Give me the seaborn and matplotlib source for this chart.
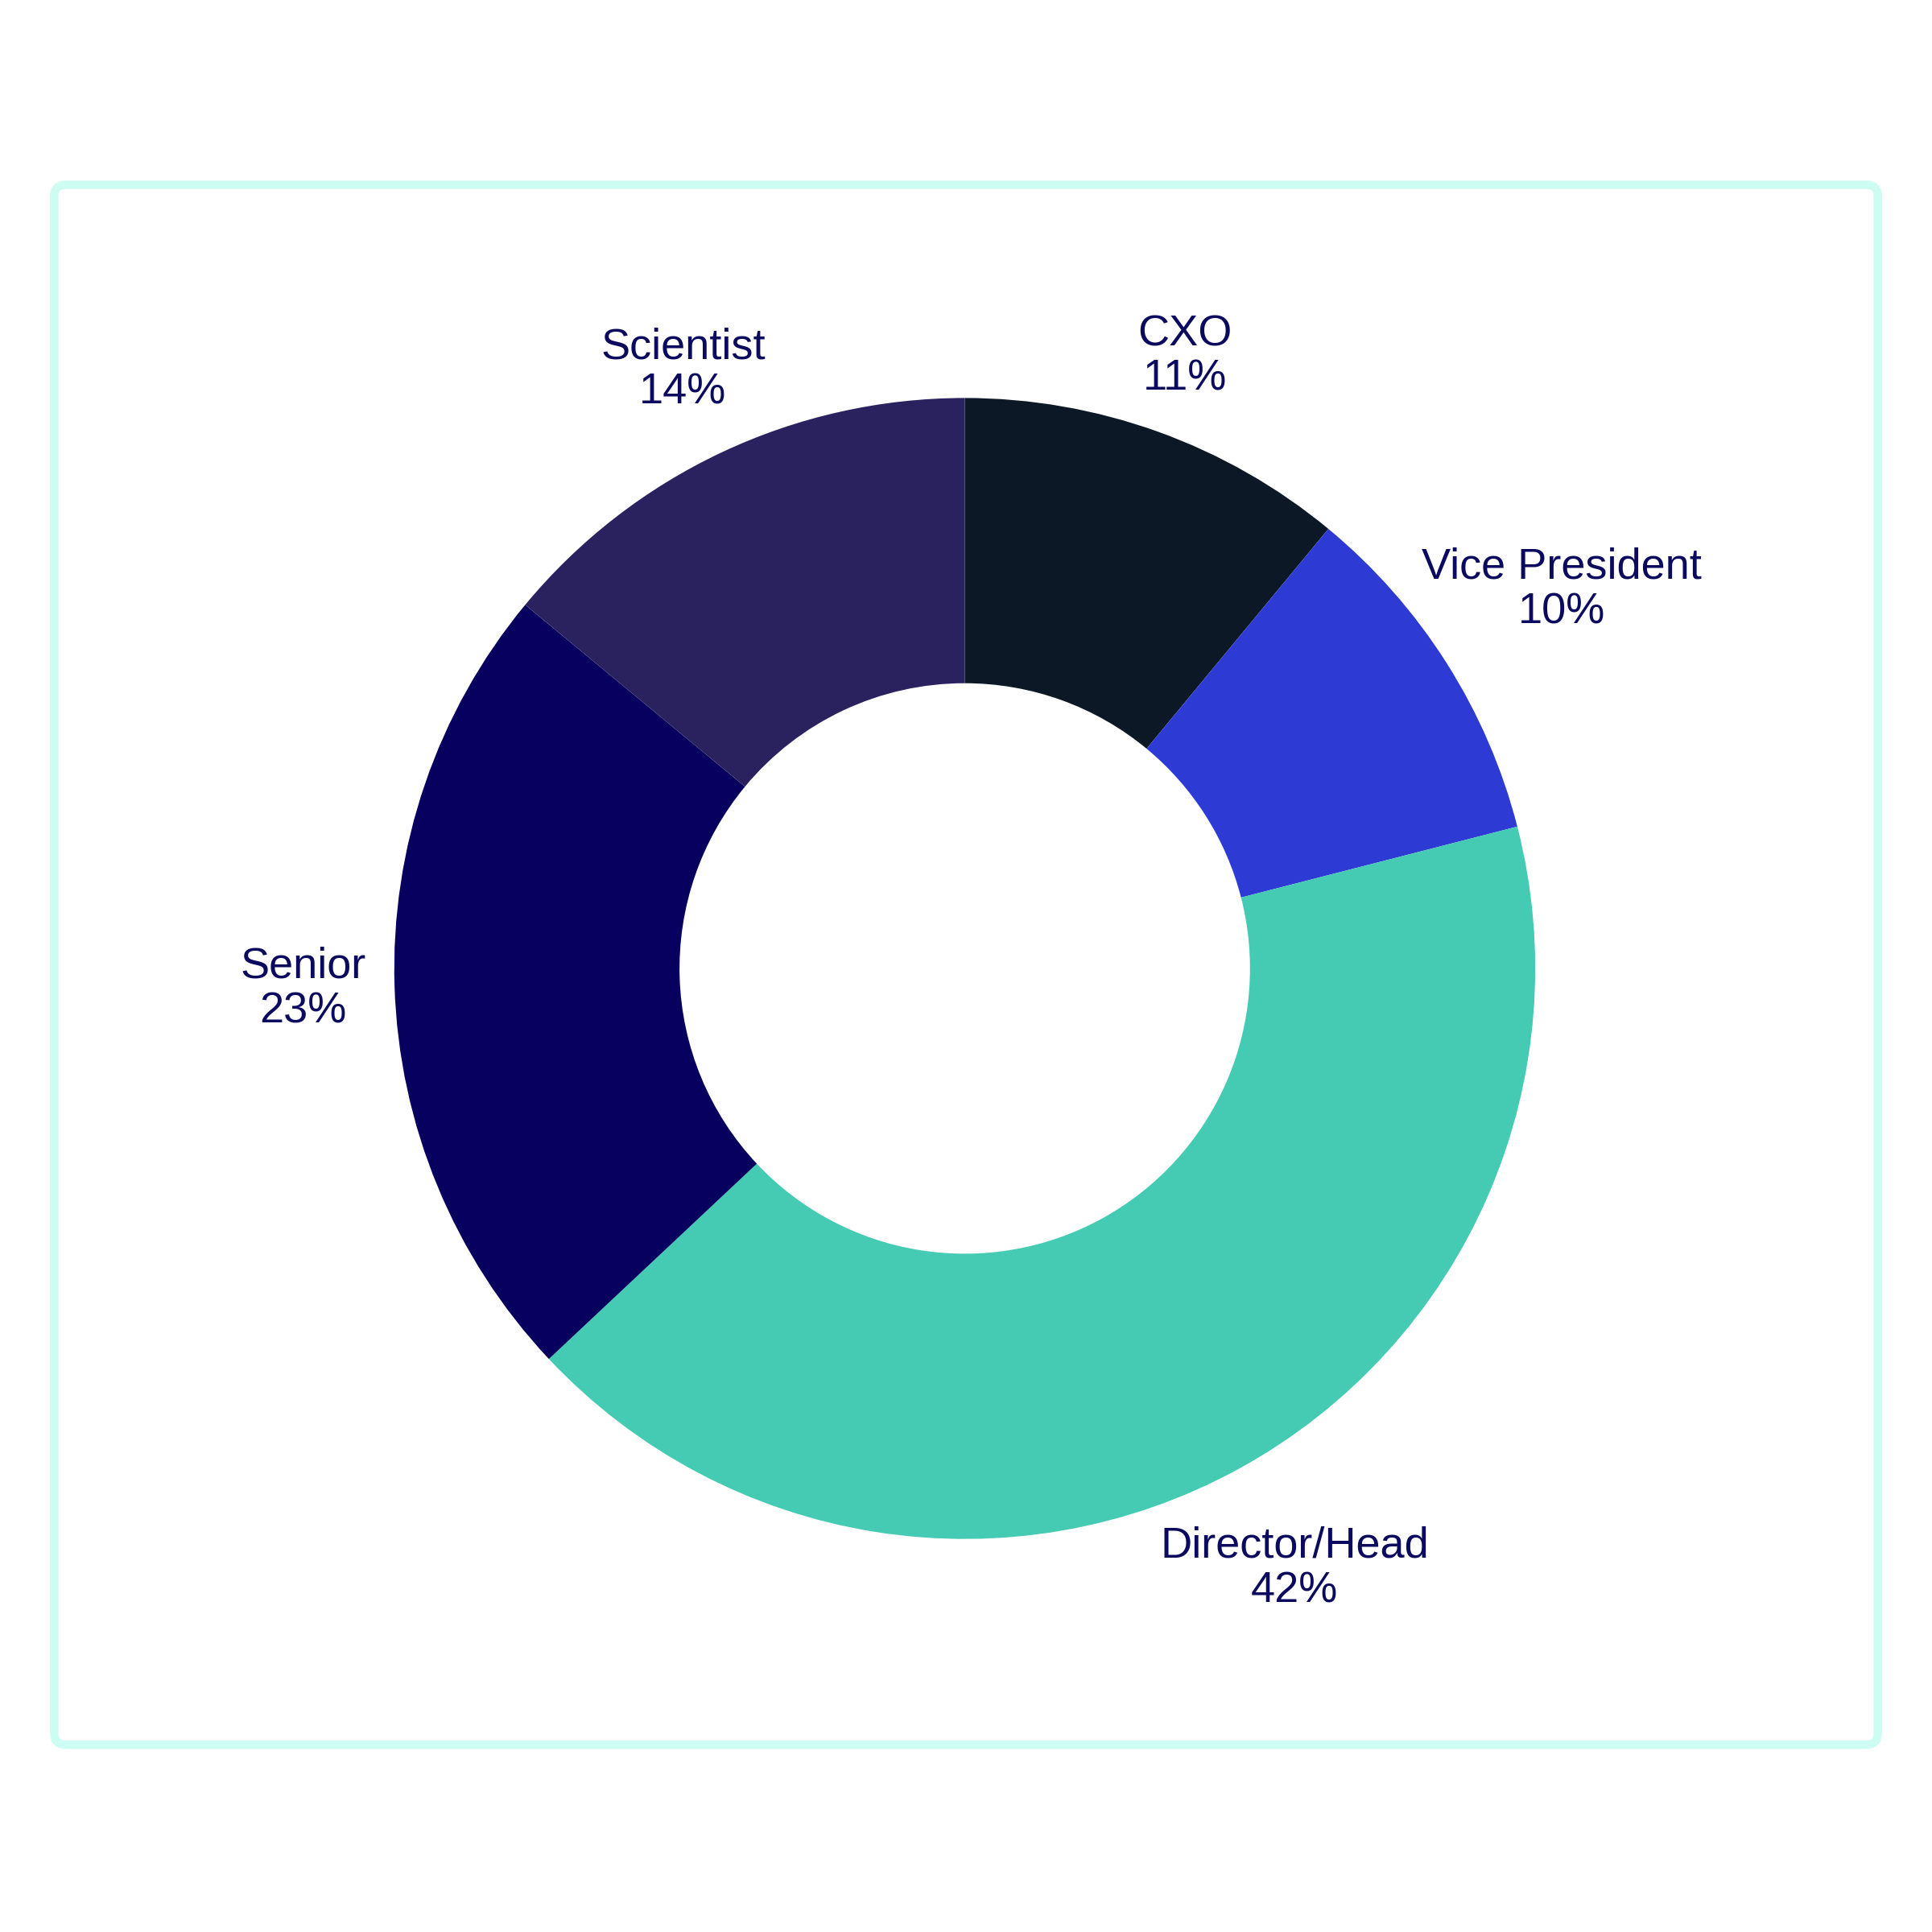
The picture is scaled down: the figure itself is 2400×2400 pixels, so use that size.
import numpy as np
import matplotlib
matplotlib.use('Agg')
import matplotlib.pyplot as plt
from matplotlib.patches import FancyBboxPatch
import seaborn as sns

# 数据
labels = ['CXO', 'Vice President', 'Director/Head', 'Senior', 'Scientist']
shares = [11, 10, 42, 23, 14]
colors = ['#0d1826', '#2d3ad4', '#45cbb3', '#08005e', '#29225e']
text_color = '#0b0a5e'

sns.set_theme(style='white')
plt.rcParams['font.family'] = ['Liberation Sans', 'DejaVu Sans']

fig = plt.figure(figsize=(8, 8), dpi=300)
fig.patch.set_facecolor('white')

# 外框
frame = FancyBboxPatch((44 / 1568, 1 - 1416 / 1568), 1480 / 1568, 1266 / 1568,
                       boxstyle='round,pad=0,rounding_size=0.006',
                       transform=fig.transFigure, fill=False,
                       edgecolor='#ccfcf2', linewidth=2.5)
fig.patches.append(frame)

ax = fig.add_axes([0, 0, 1, 1])
ax.pie(shares, colors=colors, startangle=90, counterclock=False, radius=1,
       wedgeprops=dict(width=0.5, linewidth=0))

# pie 会重设坐标范围，之后再设
R = 463 / 1568
cx, cy = 783 / 1568, 1 - 786 / 1568
ax.set_xlim(-cx / R, (1 - cx) / R)
ax.set_ylim(-cy / R, (1 - cy) / R)
ax.set_aspect('equal')
ax.axis('off')

# 标签
label_r = [1.14, 1.24, 1.20, 1.16, 1.16]
total = sum(shares)
start = 90.0
for lab, val, lr in zip(labels, shares, label_r):
    span = 360.0 * val / total
    mid = np.deg2rad(start - span / 2)
    start -= span
    ax.text(lr * np.cos(mid), lr * np.sin(mid), f'{lab}\n{val}%',
            ha='center', va='center', color=text_color, fontsize=13,
            linespacing=1.15)

fig.savefig('out.png', dpi=300)
plt.close(fig)
